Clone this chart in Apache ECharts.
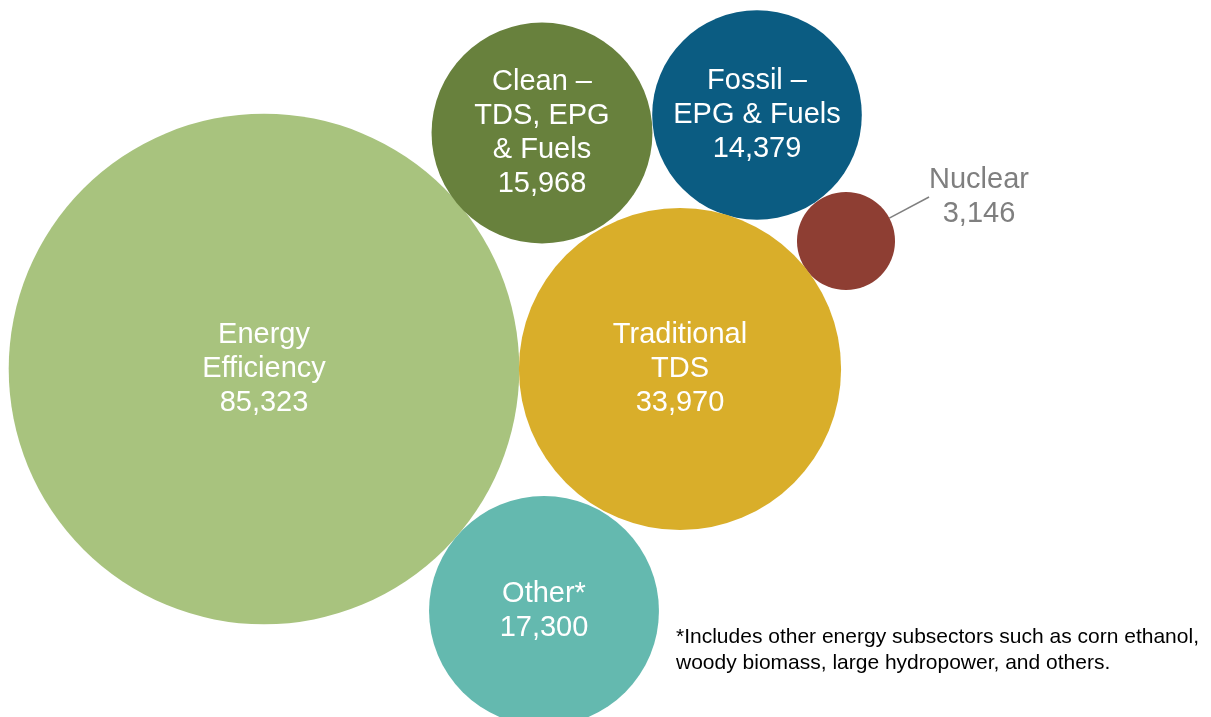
<!DOCTYPE html>
<html>
<head>
<meta charset="utf-8">
<script src="https://cdn.jsdelivr.net/npm/echarts@6/dist/echarts.min.js"></script>
<style>
html,body{margin:0;padding:0;background:#fff;}
#chart{width:1211px;height:717px;}
</style>
</head>
<body>
<div id="chart"></div>
<script>
// ---- data ----
var names = ['Energy\nEfficiency', 'Clean –\nTDS, EPG\n& Fuels', 'Fossil –\nEPG & Fuels', 'Nuclear', 'Traditional\nTDS', 'Other*'];
var values = [85323, 15968, 14379, 3146, 33970, 17300];
// bubble centre positions (layout coordinates of the packed bubble chart)
var xPos = [264, 542, 757, 846, 680, 544];
var yPos = [369, 133, 115, 241, 369, 611];
var colors = ['#A8C37E', '#68813D', '#0B5C82', '#8E3E33', '#D9AE2A', '#64B9AF'];
var footnote = ['*Includes other energy subsectors such as corn ethanol,', 'woody biomass, large hydropower, and others.'];

var FONT = '"Liberation Sans", Arial, Helvetica, sans-serif';
function fmt(v){ return v.toString().replace(/\B(?=(\d{3})+(?!\d))/g, ','); }

var data = values.map(function(v, i){
  var item = {
    name: names[i],
    value: [xPos[i], yPos[i], v],
    itemStyle: { color: colors[i], opacity: 1 }
  };
  if (names[i] === 'Nuclear') {
    item.label = { color: '#7F7F7F' };
    item.labelLine = { show: true, lineStyle: { color: '#7F7F7F', width: 1.5 } };
  }
  if (i === 2) {
    item.label = { offset: [0, -9] };
  }
  return item;
});

var chart = echarts.init(document.getElementById('chart'), null, {renderer: 'canvas'});
chart.setOption({
  animation: false,
  backgroundColor: '#ffffff',
  grid: { left: 0, right: 0, top: 0, bottom: 0 },
  xAxis: { type: 'value', min: 0, max: 1211, show: false },
  yAxis: { type: 'value', min: 0, max: 717, inverse: true, show: false },
  series: [{
    type: 'scatter',
    data: data,
    symbol: 'circle',
    symbolSize: function(val){ return 1.748 * Math.sqrt(val[2]); },
    label: {
      show: true,
      position: 'inside',
      color: '#ffffff',
      fontFamily: FONT,
      fontWeight: 'normal',
      fontSize: 29,
      lineHeight: 34,
      formatter: function(p){ return p.name + '\n' + fmt(p.value[2]); }
    },
    labelLayout: function(p){
      if (p.dataIndex === 3) {
        return { dx: 133, dy: -44 };
      }
      return {};
    },
    emphasis: { disabled: true }
  }],
  graphic: [{
    type: 'text',
    left: 676,
    top: 624,
    style: {
      text: footnote.join('\n'),
      fill: '#000000',
      fontFamily: FONT,
      fontWeight: 'normal',
      fontSize: 21,
      lineHeight: 26
    }
  }]
});
</script>
</body>
</html>
